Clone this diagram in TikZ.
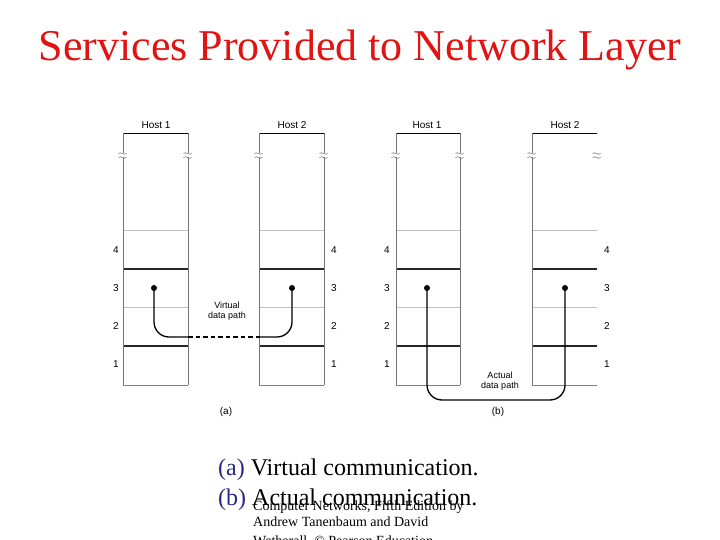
\documentclass[tikz,border=0pt]{standalone}
\usepackage{fontspec}
\setmainfont{Liberation Serif}
\newfontfamily\labfont{Liberation Sans}
\definecolor{titlered}{RGB}{225,20,20}
\definecolor{capblue}{RGB}{40,40,130}
\begin{document}
\begin{tikzpicture}[x=1pt,y=-1pt,
  vline/.style={draw=black!55,line width=0.8pt},
  topline/.style={draw=black,line width=0.9pt},
  darkline/.style={draw=black!85,line width=1.1pt},
  lightline/.style={draw=black!25,line width=0.6pt},
  botline/.style={draw=black!50,line width=0.8pt},
  lay/.style={font=\labfont\fontsize{10}{12}\selectfont,inner sep=0pt},
  hostlab/.style={font=\labfont\fontsize{10}{12}\selectfont,inner sep=0pt},
  pathlab/.style={font=\labfont\fontsize{9}{10.5}\selectfont,align=center,inner sep=0pt},
  conn/.style={draw=black,line width=1.3pt},
  dotnode/.style={circle,fill=black,inner sep=0pt,minimum size=6pt},
  brk/.style={draw=black!55,line width=0.6pt},
  captext/.style={anchor=base west,inner sep=0pt,font=\fontsize{24}{28}\selectfont},
  credit/.style={anchor=base west,inner sep=0pt,font=\fontsize{14}{16.5}\selectfont}
]
\useasboundingbox (0,0) rectangle (720,540);

% title
\node[font=\fontsize{44}{48}\selectfont,text=titlered,anchor=base,inner sep=0pt] (title) at (360,61) {Services Provided to Network Layer};

% host columns: horizontal lines
\foreach \xl/\xr in {123/188,259/324,396/460,532/597}{
  \draw[topline] (\xl,133) -- (\xr,133);
  \draw[lightline] (\xl,230) -- (\xr,230);
  \draw[darkline] (\xl,269) -- (\xr,269);
  \draw[lightline] (\xl,307) -- (\xr,307);
  \draw[darkline] (\xl,346) -- (\xr,346);
  \draw[botline] (\xl,385) -- (\xr,385);
}
% vertical lines
\foreach \x in {123,188,259,324,396,460,532}{
  \draw[vline] (\x,133) -- (\x,385);
}
% break marks
\foreach \x in {123,188,259,324,396,460,532,597}{
  \fill[white] (\x-1.5,153.5) rectangle (\x+1.5,157);
  \draw[brk] (\x-4.5,153.5) .. controls (\x-2,151) and (\x+1,156) .. (\x+3.5,153.5);
  \draw[brk] (\x-4.5,157.5) .. controls (\x-2,155) and (\x+1,160) .. (\x+3.5,157.5);
}

% host labels
\node[hostlab] (h1a) at (156,125) {Host 1};
\node[hostlab] (h2a) at (292,125) {Host 2};
\node[hostlab] (h1b) at (427,125) {Host 1};
\node[hostlab] (h2b) at (565,125) {Host 2};

% layer numbers
\foreach \n/\y in {4/250,3/288,2/326,1/364}{
  \node[lay] (la\n) at (116,\y) {\n};
  \node[lay] (ra\n) at (334,\y) {\n};
  \node[lay] (lb\n) at (387,\y) {\n};
  \node[lay] (rb\n) at (607,\y) {\n};
}

% dots
\node[dotnode] (d1) at (154,288) {};
\node[dotnode] (d2) at (292,288) {};
\node[dotnode] (d3) at (427,288) {};
\node[dotnode] (d4) at (565,288) {};
\coordinate (va) at (188,337);
\coordinate (vb) at (260,337);
\coordinate (ab) at (500,400);

% virtual path
\draw[conn,rounded corners=15pt] (d1.center) |- (va);
\draw[conn,dash pattern=on 4.5pt off 3pt] (va) -- (vb);
\draw[conn,rounded corners=15pt] (vb) -| (d2.center);
% actual path
\draw[conn,rounded corners=15pt] (d3.center) |- (ab) -| (d4.center);

\node[pathlab] (vt) at (227,311) {Virtual\\data path};
\node[pathlab] (at) at (500,381) {Actual\\data path};

\node[hostlab] (sa) at (226,412) {(a)};
\node[hostlab] (sb) at (498,412) {(b)};

% captions
\node[captext] (capa) at (218,475) {\textcolor{capblue}{(a)} Virtual communication.};
\node[captext] (capb) at (218,505) {\textcolor{capblue}{(b)} Actual communication.};
\node[credit] (cr1) at (253,510) {Computer Networks, Fifth Edition by};
\node[credit] (cr2) at (253,526.5) {Andrew Tanenbaum and David};
\node[credit] (cr3) at (253,545) {Wetherall, © Pearson Education-};
\end{tikzpicture}
\end{document}
